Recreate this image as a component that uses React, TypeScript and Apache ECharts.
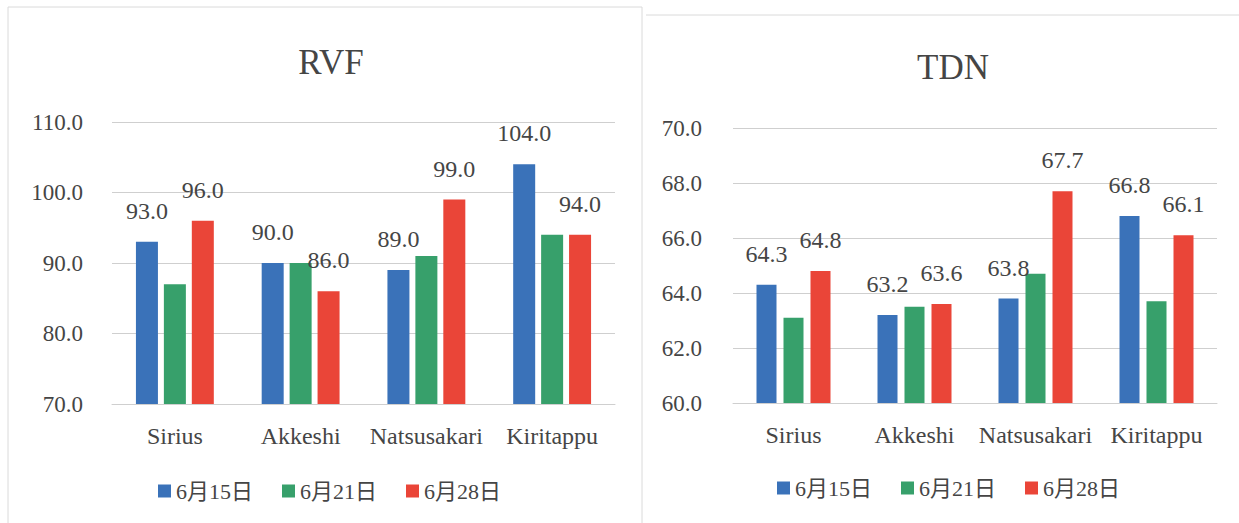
import React, { useEffect, useRef } from "react";
import * as echarts from "echarts";

// Sites and sampling dates
const categories = ["Sirius", "Akkeshi", "Natsusakari", "Kiritappu"];
const dates = ["6月15日", "6月21日", "6月28日"];

// RVF values per date
const rvfJun15 = [93.0, 90.0, 89.0, 104.0];
const rvfJun21 = [87.0, 90.0, 91.0, 94.0];
const rvfJun28 = [96.0, 86.0, 99.0, 94.0];

// TDN values per date
const tdnJun15 = [64.3, 63.2, 63.8, 66.8];
const tdnJun21 = [63.1, 63.5, 64.7, 63.7];
const tdnJun28 = [64.8, 63.6, 67.7, 66.1];

// Which date series carry value labels
const labelled = [true, false, true];

const colors = ["#3a72b9", "#37a06b", "#ea4538"];
const FONT = "Liberation Serif, Noto Sans CJK JP, serif";
const TEXT = "#454545";

const font = (fontSize: number) => ({
  fontFamily: FONT,
  fontSize,
  fontWeight: "normal" as const,
  fontStyle: "normal" as const,
  color: TEXT,
});

export default function App() {
  const ref = useRef<HTMLDivElement>(null);

  useEffect(() => {
    if (!ref.current) return;
    const chart = echarts.init(ref.current, null, { renderer: "svg" });

    const makeSeries = (
      values: number[][],
      axis: number,
      barWidth: number,
      barGap: string
    ) =>
      values.map((data, i) => ({
        name: dates[i],
        type: "bar",
        xAxisIndex: axis,
        yAxisIndex: axis,
        data,
        barWidth,
        barGap,
        itemStyle: { color: colors[i] },
        label: {
          show: labelled[i],
          position: "top",
          distance: 19,
          ...font(24),
          formatter: (p: any) => Number(p.value).toFixed(1),
        },
      }));

    const xAxisBase = (gridIndex: number) => ({
      type: "category",
      gridIndex,
      data: categories,
      axisLine: { show: true, lineStyle: { color: "#cfcfcf", width: 1 } },
      axisTick: { show: false },
      axisLabel: { interval: 0, margin: 20, ...font(24) },
    });

    const yAxisBase = (
      gridIndex: number,
      min: number,
      max: number,
      interval: number,
      margin: number
    ) => ({
      type: "value",
      gridIndex,
      min,
      max,
      interval,
      axisLine: { show: false },
      axisTick: { show: false },
      splitLine: { lineStyle: { color: "#cfcfcf", width: 1 } },
      axisLabel: {
        margin,
        ...font(23),
        formatter: (v: number) => v.toFixed(1),
      },
    });

    const legendBase = (left: number, top: number) => ({
      left,
      top,
      itemWidth: 13,
      itemHeight: 13,
      itemGap: 29,
      icon: "rect",
      data: dates,
      textStyle: font(22),
    });

    chart.setOption({
      animation: false,
      backgroundColor: "#ffffff",
      textStyle: font(12),
      graphic: [
        {
          type: "rect",
          shape: { x: 8, y: 7, width: 634, height: 530 },
          style: { fill: "none", stroke: "#dadada", lineWidth: 1 },
          silent: true,
        },
        {
          type: "line",
          shape: { x1: 646, y1: 15, x2: 1239, y2: 15 },
          style: { stroke: "#dadada", lineWidth: 1 },
          silent: true,
        },
      ],
      title: [
        { text: "RVF", left: 326, top: 40, textAlign: "center", textStyle: font(35) },
        { text: "TDN", left: 948, top: 45, textAlign: "center", textStyle: font(35) },
      ],
      legend: [legendBase(153, 475), legendBase(772, 472)],
      grid: [
        { left: 112, top: 122, width: 503, height: 282 },
        { left: 733, top: 128, width: 484, height: 275 },
      ],
      xAxis: [xAxisBase(0), xAxisBase(1)],
      yAxis: [yAxisBase(0, 70, 110, 10, 29), yAxisBase(1, 60, 70, 2, 31)],
      series: [
        ...makeSeries([rvfJun15, rvfJun21, rvfJun28], 0, 22, "27%"),
        ...makeSeries([tdnJun15, tdnJun21, tdnJun28], 1, 20, "35%"),
      ],
    });

    return () => chart.dispose();
  }, []);

  return (
    <div
      ref={ref}
      style={{ position: "fixed", left: 0, top: 0, width: 1239, height: 523 }}
    />
  );
}
